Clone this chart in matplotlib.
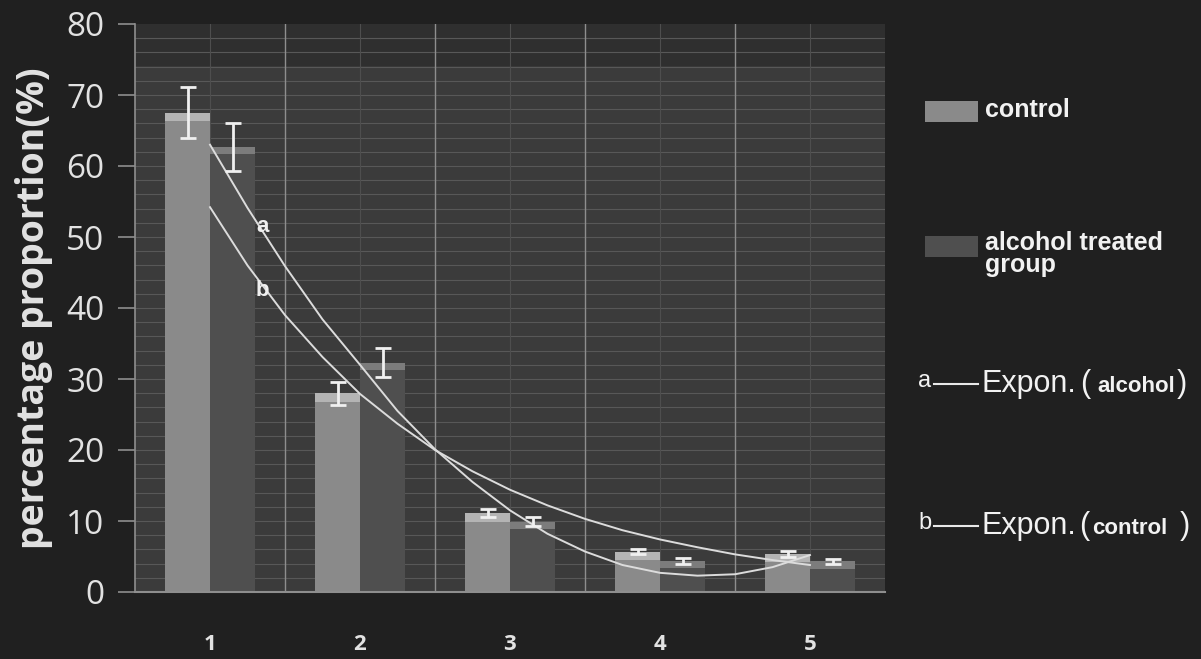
import numpy as np
import matplotlib.pyplot as plt
from matplotlib.patches import Rectangle
from matplotlib.lines import Line2D

# values
groups = [1, 2, 3, 4, 5]
control = [67.5, 28.0, 11.1, 5.7, 5.4]
control_err = [3.6, 1.6, 0.6, 0.4, 0.4]
alcohol = [62.7, 32.3, 9.9, 4.4, 4.3]
alcohol_err = [3.4, 2.0, 0.6, 0.4, 0.4]

# trend lines
trend_x = [1, 1.25, 1.5, 1.75, 2, 2.25, 2.5, 2.75, 3, 3.25, 3.5, 3.75, 4, 4.25, 4.5, 4.75, 5]
trend_a = [63.0, 54.1, 45.9, 38.4, 32.0, 25.5, 20.1, 15.5, 11.5, 8.2, 5.7, 3.8, 2.7, 2.3, 2.5, 3.5, 5.2]
trend_b = [54.2, 46.0, 39.0, 33.1, 27.9, 23.7, 20.0, 17.0, 14.4, 12.2, 10.3, 8.7, 7.4, 6.3, 5.3, 4.5, 3.8]

W, H = 1201, 659
bg = "#202020"
txt = "#e2e2e2"

fig = plt.figure(figsize=(W / 100, H / 100), dpi=100, facecolor=bg)
ax = fig.add_axes([135 / W, 1 - 592 / H, 750 / W, 568 / H])
ax.set_facecolor("#3b3b3b")

def fx(px):
    return px / W

def fy(py):
    return 1 - py / H

# dark band at the top of the plot area (photo lighting)
ax.axhspan(74.2, 80, color="#2f2f2f", zorder=0)

# grid
for v in np.arange(2, 80, 2):
    ax.axhline(v, color="#585858", lw=0.8, zorder=1)
for g in groups:
    ax.axvline(g, color="#4e4e4e", lw=0.8, zorder=1)
for g in np.arange(1.5, 5.5, 1):
    ax.axvline(g, color="#8e8e8e", lw=1.0, zorder=1)

x = np.array(groups, dtype=float)
w = 0.3
ax.bar(x - w / 2, control, width=w, color="#8a8a8a", zorder=2)
ax.bar(x + w / 2, alcohol, width=w, color="#4f4f4f", zorder=2)
# lighter bevel on bar tops
ax.bar(x - w / 2, [1.2] * 5, bottom=np.array(control) - 1.2, width=w, color="#b4b4b4", zorder=2)
ax.bar(x + w / 2, [1.0] * 5, bottom=np.array(alcohol) - 1.0, width=w, color="#7c7c7c", zorder=2)

ax.errorbar(x - w / 2, control, yerr=control_err, fmt="none", ecolor="#f0f0f0",
            elinewidth=2, capsize=6, capthick=2, zorder=4)
ax.errorbar(x + w / 2, alcohol, yerr=alcohol_err, fmt="none", ecolor="#f0f0f0",
            elinewidth=2, capsize=6, capthick=2, zorder=4)

ax.plot(trend_x, trend_a, color="#dcdcdc", lw=1.4, zorder=3)
ax.plot(trend_x, trend_b, color="#dcdcdc", lw=1.4, zorder=3)
ax.text(1.35, 51.5, "a", color="#f0f0f0", fontsize=16, fontweight="bold",
        family="Liberation Sans", ha="center", va="center", zorder=5)
ax.text(1.35, 42.5, "b", color="#f0f0f0", fontsize=16, fontweight="bold",
        family="Liberation Sans", ha="center", va="center", zorder=5)

ax.set_xlim(0.5, 5.5)
ax.set_ylim(0, 80)
ax.set_yticks(range(0, 81, 10))
ax.set_xticks(groups)
ax.set_xticklabels([str(g) for g in groups], family="Open Sans", fontweight="bold",
                   fontsize=16, color=txt)
ax.tick_params(axis="x", length=0, pad=30)
ax.tick_params(axis="y", length=12, width=1.2, color="#8e8e8e", labelsize=24,
               labelcolor=txt, pad=10)
for lab in ax.get_yticklabels():
    lab.set_family("Open Sans")
for s in ["top", "right"]:
    ax.spines[s].set_visible(False)
ax.spines["left"].set_color("#8e8e8e")
ax.spines["bottom"].set_color("#8e8e8e")
ax.spines["left"].set_linewidth(1.2)
ax.spines["bottom"].set_linewidth(1.5)

fig.text(fx(34), fy(308), "percentage proportion(%)", rotation=90, ha="center", va="center",
         color=txt, fontsize=27, fontweight="bold", family="Open Sans")

# legend drawn by hand
fig.add_artist(Rectangle((fx(925), fy(122)), 53 / W, 21 / H, transform=fig.transFigure,
                         facecolor="#8a8a8a", edgecolor="none"))
fig.add_artist(Rectangle((fx(925), fy(257)), 53 / W, 21 / H, transform=fig.transFigure,
                         facecolor="#4f4f4f", edgecolor="none"))
fig.text(fx(985), fy(110), "control", color="#f2f2f2", fontsize=18, fontweight="bold",
         family="Liberation Sans", va="center")
fig.text(fx(985), fy(254), "alcohol treated\ngroup", color="#f2f2f2", fontsize=18,
         fontweight="bold", family="Liberation Sans", va="center", linespacing=0.9)

legend_lines = [(384, "a", 1080, "alcohol", 1097, 1177),
                (526, "b", 1079, "control", 1092, 1180)]
for py, letter, px_open, word, px_word, px_close in legend_lines:
    fig.text(fx(918), fy(py - 3), letter, color="#f2f2f2", fontsize=17,
             family="Liberation Sans", va="center")
    fig.add_artist(Line2D([fx(934), fx(978)], [fy(py), fy(py)], transform=fig.transFigure,
                          color="#e8e8e8", lw=1.5))
    fig.text(fx(982), fy(py), "Expon.", color="#f2f2f2", fontsize=22,
             family="Liberation Sans", va="center")
    fig.text(fx(px_open), fy(py), "(", color="#f2f2f2", fontsize=22,
             family="Liberation Sans", va="center")
    fig.text(fx(px_word), fy(py + 2), word, color="#f2f2f2", fontsize=16,
             family="Liberation Sans", fontweight="bold", va="center")
    fig.text(fx(px_close), fy(py), ")", color="#f2f2f2", fontsize=22,
             family="Liberation Sans", va="center")

fig.savefig("out.png", dpi=100, facecolor=bg)
